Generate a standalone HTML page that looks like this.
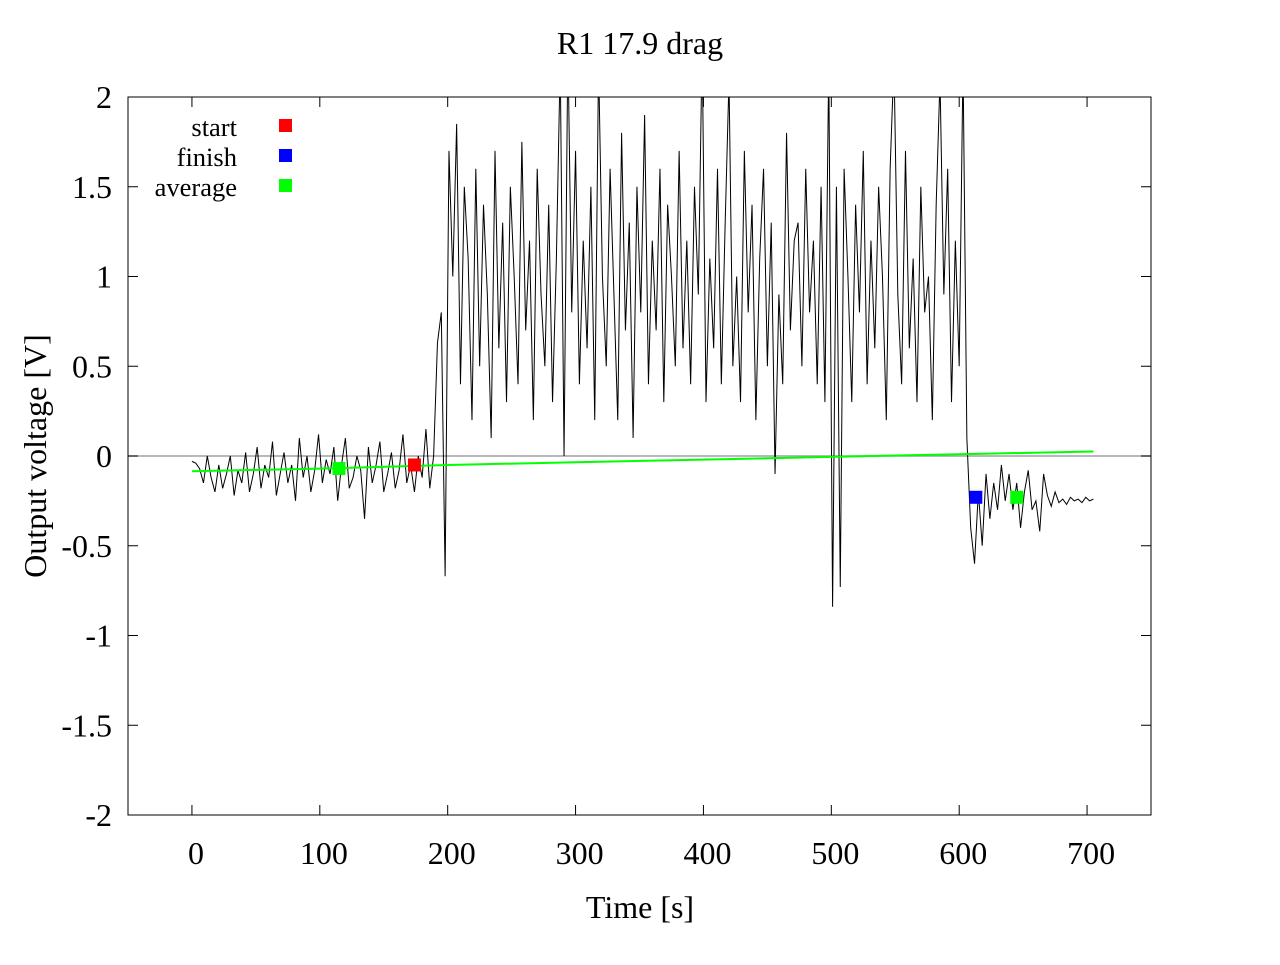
<!DOCTYPE html>
<html><head><meta charset="utf-8"><style>
body{margin:0;background:#fff;}
svg text{font-family:"Liberation Serif",serif;fill:#000;}
</style></head><body>
<svg id="chart" width="1280" height="960" xmlns="http://www.w3.org/2000/svg">
<text x="640" y="54" font-size="32" text-anchor="middle">R1 17.9 drag</text>
<text x="640" y="918" font-size="32" text-anchor="middle">Time [s]</text>
<text transform="translate(46,456) rotate(-90)" font-size="32" text-anchor="middle">Output voltage [V]</text>
<g id="axes"></g>
<g id="marks"></g>
<g>
<text x="237" y="136" font-size="26.5" text-anchor="end">start</text>
<rect x="279" y="119" width="13" height="13" fill="#ff0000"/>
<text x="237" y="166" font-size="26.5" text-anchor="end">finish</text>
<rect x="279" y="149" width="13" height="13" fill="#0000ff"/>
<text x="237" y="196" font-size="26.5" text-anchor="end">average</text>
<rect x="279" y="179" width="13" height="13" fill="#00ff00"/>
</g>
</svg>
<script>
const xTicks=[0,100,200,300,400,500,600,700];
const yTicks=[2,1.5,1,0.5,0,-0.5,-1,-1.5,-2];
const sampleStep=3;
const signal=[-0.03,-0.04,-0.07,-0.15,0.0,-0.12,-0.2,-0.05,-0.18,-0.1,0.0,-0.22,-0.08,-0.15,0.02,-0.2,-0.1,0.05,-0.18,-0.05,-0.12,0.08,-0.22,-0.1,0.02,-0.15,-0.05,-0.25,0.1,-0.12,0.0,-0.2,-0.08,0.12,-0.15,-0.02,-0.1,0.05,-0.25,-0.05,0.1,-0.18,-0.12,0.0,-0.08,-0.35,0.05,-0.15,-0.05,0.08,-0.2,-0.1,0.02,-0.18,-0.08,0.12,-0.15,-0.05,-0.2,0.0,-0.12,0.15,-0.18,0.0,
0.63,0.8,-0.67,1.7,
1.0,1.85,0.4,1.5,1.1,0.2,1.6,0.5,1.4,0.9,0.1,1.7,0.6,1.3,0.3,1.5,1.0,0.4,1.75,0.7,1.2,0.2,1.6,0.9,0.5,1.4,0.3,1.1,2.2,0.0,2.3,0.8,1.7,0.4,1.2,0.6,1.5,0.2,2.2,1.0,0.5,1.6,0.9,0.2,1.8,0.7,1.3,0.1,1.5,0.8,1.9,0.4,1.2,0.7,1.6,0.3,1.4,1.0,0.5,1.7,0.6,1.2,0.4,1.5,0.9,2.3,0.3,1.1,0.6,1.6,0.4,1.3,2.1,0.5,1.0,0.3,1.7,0.8,1.4,0.2,1.1,1.6,0.5,1.3,-0.1,0.9,0.4,1.8,0.7,1.2,1.3,0.5,1.6,0.8,1.2,0.4,1.5,0.3,2.2,-0.84,1.5,-0.73,1.6,1.0,0.3,1.4,0.8,1.7,0.4,1.2,0.6,1.5,1.0,0.2,1.6,2.2,0.9,0.4,1.7,0.6,1.1,0.3,1.5,0.8,1.0,0.2,1.4,2.1,0.9,1.6,0.3,1.2,0.5,2.2,0.1,
-0.4,-0.6,-0.2,-0.5,-0.1,-0.35,-0.15,-0.3,-0.05,-0.25,-0.1,-0.3,-0.15,-0.4,-0.2,-0.08,-0.3,-0.25,-0.42,-0.1,
-0.22,-0.28,-0.2,-0.26,-0.24,-0.27,-0.23,-0.25,-0.24,-0.26,-0.23,-0.25,-0.24];
const avgT=[0,100,200,300,400,500,600,705];
const avgV=[-0.085,-0.07,-0.05,-0.035,-0.02,-0.005,0.01,0.025];
const markerNames=['start','finish','average','average'];
const markerT=[174,613,115,645];
const markerV=[-0.05,-0.23,-0.07,-0.23];
const markerColors=['#ff0000','#0000ff','#00ff00','#00ff00'];

const NS='http://www.w3.org/2000/svg';
const L=128,R=1151,T=97,B=815;
const X=v=>L+(v+50)/800*(R-L);
const Y=v=>B-(v+2)/4*(B-T);
const axes=document.getElementById('axes'),marks=document.getElementById('marks');
function mk(tag,attrs,parent){const e=document.createElementNS(NS,tag);for(const k in attrs)e.setAttribute(k,attrs[k]);parent.appendChild(e);return e;}
const clip=mk('clipPath',{id:'pc'},document.getElementById('chart'));
mk('rect',{x:L,y:T,width:R-L,height:B-T},clip);
const zl=mk('line',{x1:L,x2:R,y1:Y(0),y2:Y(0),stroke:'#a0a0a0','stroke-width':1.5},axes);


xTicks.forEach(t=>{
 const x=X(t);
 const a=mk('line',{x1:x,x2:x,y1:B,y2:B-10,stroke:'#000'},axes);
 
 
 mk('line',{x1:x,x2:x,y1:T,y2:T+10,stroke:'#000'},axes);
 const tx=mk('text',{x:x+4,y:B+49,'font-size':32,'text-anchor':'middle'},axes);tx.textContent=t;
 
 
});
yTicks.forEach(t=>{
 const y=Y(t);
 const a=mk('line',{x1:L,x2:L+10,y1:y,y2:y,stroke:'#000'},axes);
 
 
 mk('line',{x1:R,x2:R-10,y1:y,y2:y,stroke:'#000'},axes);
 const tx=mk('text',{x:112,y:y+11,'font-size':32,'text-anchor':'end'},axes);tx.textContent=t;
 
 
});
const frame=mk('rect',{x:L,y:T,width:R-L,height:B-T,fill:'none',stroke:'#000'},axes);


const sig=mk('polyline',{points:signal.map((v,i)=>X(i*sampleStep)+','+Y(v)).join(' '),fill:'none',stroke:'#000','stroke-width':1,'clip-path':'url(#pc)'},marks);


const av=mk('polyline',{points:avgT.map((t,i)=>X(t)+','+Y(avgV[i])).join(' '),fill:'none',stroke:'#00ff00','stroke-width':2},marks);


markerT.forEach((t,i)=>{
 const r=mk('rect',{x:X(t)-6.5,y:Y(markerV[i])-6.5,width:13,height:13,fill:markerColors[i]},marks);
 
 
});
</script>
</body></html>
